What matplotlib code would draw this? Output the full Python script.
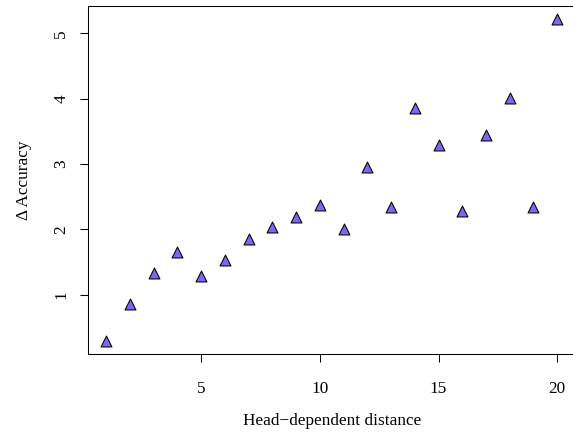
import matplotlib
matplotlib.use("Agg")
import matplotlib.pyplot as plt

# head-dependent distance vs accuracy gain
distance = list(range(1, 21))
delta_acc = [0.29, 0.86, 1.34, 1.66, 1.29, 1.54, 1.86, 2.03, 2.19, 2.37,
             2.01, 2.96, 2.35, 3.85, 3.29, 2.28, 3.44, 4.01, 2.35, 5.22]

plt.rcParams['font.family'] = ['Liberation Serif', 'DejaVu Serif']
fs = 12.4

fig = plt.figure(figsize=(5.73, 4.37), dpi=100)
ax = fig.add_axes([0.1536, 0.1895, 0.8504, 0.797])

ax.scatter(distance, delta_acc, marker='^', s=62, c='#7b68ee',
           edgecolors='black', linewidths=0.75, zorder=3)

# R style 4% padding
xr = max(distance) - min(distance)
yr = max(delta_acc) - min(delta_acc)
ax.set_xlim(min(distance) - 0.04 * xr, max(distance) + 0.04 * xr)
ax.set_ylim(min(delta_acc) - 0.04 * yr, max(delta_acc) + 0.04 * yr)

ax.set_xticks([5, 10, 15, 20])
ax.set_yticks([1, 2, 3, 4, 5])
ax.tick_params(axis='both', direction='out', length=5.5, width=0.75,
               labelsize=fs, pad=14)
ax.tick_params(axis='y', labelrotation=90, pad=8)
for lbl in ax.get_yticklabels():
    lbl.set_va('center')

for sp in ax.spines.values():
    sp.set_linewidth(0.75)

ax.set_xlabel('Head\u2212dependent distance', fontsize=fs, labelpad=11)
ax.set_ylabel('\u0394 Accuracy', fontsize=fs, labelpad=15)

fig.savefig('out.png', dpi=100)
